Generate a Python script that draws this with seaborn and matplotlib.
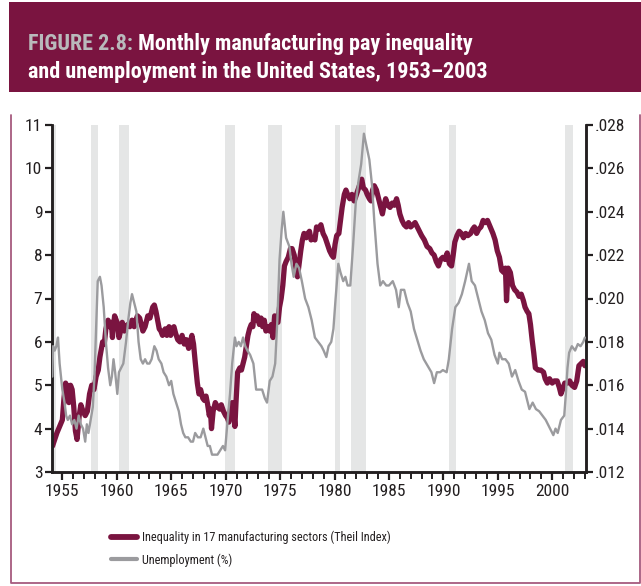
"""Monthly manufacturing pay inequality and unemployment, US 1953-2003."""

import matplotlib

matplotlib.use("Agg")

import matplotlib.pyplot as plt
import pandas as pd
import seaborn as sns
from matplotlib import font_manager
from matplotlib.lines import Line2D
from matplotlib.patches import Rectangle
from matplotlib.ticker import FuncFormatter, MultipleLocator


# unemployment rate (%), left axis
unemp_years = [
    1954.08, 1954.15, 1954.3, 1954.45, 1954.6, 1954.75, 1955.0, 1955.2, 1955.35, 1955.5,
    1955.7, 1955.9, 1956.1, 1956.3, 1956.5, 1956.7, 1956.9, 1957.1, 1957.25, 1957.4,
    1957.6, 1957.8, 1957.95, 1958.1, 1958.25, 1958.45, 1958.6, 1958.8, 1959.0, 1959.2,
    1959.4, 1959.55, 1959.7, 1959.85, 1960.05, 1960.2, 1960.4, 1960.6, 1960.85, 1961.05,
    1961.25, 1961.4, 1961.6, 1961.8, 1962.0, 1962.2, 1962.4, 1962.6, 1962.8, 1963.0,
    1963.2, 1963.45, 1963.65, 1963.85, 1964.1, 1964.3, 1964.55, 1964.8, 1965.0, 1965.2,
    1965.45, 1965.7, 1965.9, 1966.1, 1966.3, 1966.55, 1966.8, 1967.0, 1967.2, 1967.45,
    1967.7, 1967.95, 1968.15, 1968.35, 1968.55, 1968.75, 1969.0, 1969.25, 1969.5, 1969.75,
    1969.95, 1970.15, 1970.4, 1970.6, 1970.85, 1971.0, 1971.2, 1971.4, 1971.6, 1971.8,
    1972.0, 1972.25, 1972.55, 1972.8, 1973.1, 1973.35, 1973.6, 1973.8, 1974.05, 1974.3,
    1974.55, 1974.75, 1974.95, 1975.15, 1975.3, 1975.55, 1975.85, 1976.05, 1976.25, 1976.5,
    1976.75, 1977.0, 1977.3, 1977.6, 1977.9, 1978.2, 1978.5, 1978.8, 1979.0, 1979.25,
    1979.45, 1979.7, 1979.9, 1980.1, 1980.35, 1980.55, 1980.8, 1981.0, 1981.2, 1981.45,
    1981.7, 1981.95, 1982.2, 1982.45, 1982.7, 1982.95, 1983.2, 1983.45, 1983.65, 1983.95,
    1984.2, 1984.45, 1984.75, 1985.0, 1985.35, 1985.65, 1985.9, 1986.1, 1986.4, 1986.7,
    1987.0, 1987.3, 1987.6, 1987.9, 1988.2, 1988.55, 1988.9, 1989.15, 1989.4, 1989.7,
    1989.95, 1990.3, 1990.5, 1990.8, 1991.1, 1991.4, 1991.7, 1992.0, 1992.35, 1992.6,
    1992.9, 1993.2, 1993.5, 1993.8, 1994.1, 1994.4, 1994.7, 1995.0, 1995.15, 1995.4,
    1995.7, 1996.0, 1996.3, 1996.6, 1996.9, 1997.2, 1997.5, 1997.9, 1998.2, 1998.5,
    1998.8, 1999.1, 1999.4, 1999.8, 2000.1, 2000.3, 2000.5, 2000.8, 2001.1, 2001.25,
    2001.4, 2001.55, 2001.8, 2002.1, 2002.35, 2002.6, 2002.85, 2003.0,
]
unemp_values = [
    5.2, 5.9, 5.8, 5.9, 6.1, 5.5, 4.9, 4.6, 4.3, 4.2,
    4.3, 4.1, 4.2, 4.0, 4.3, 4.1, 4.0, 3.7, 4.1, 3.9,
    4.2, 4.5, 5.2, 6.3, 7.4, 7.5, 7.3, 6.8, 6.0, 5.4,
    5.0, 5.2, 5.6, 5.3, 4.8, 5.3, 5.4, 5.5, 6.0, 6.5,
    6.9, 7.1, 6.9, 6.7, 6.0, 5.6, 5.5, 5.6, 5.5, 5.5,
    5.6, 5.9, 5.8, 5.6, 5.5, 5.3, 5.2, 5.0, 5.1, 4.8,
    4.6, 4.4, 4.1, 3.9, 3.8, 3.8, 3.7, 3.7, 3.9, 3.8,
    3.8, 4.0, 3.8, 3.6, 3.6, 3.4, 3.4, 3.4, 3.5, 3.6,
    3.5, 4.1, 4.8, 5.5, 6.1, 5.9, 6.0, 5.9, 6.1, 5.9,
    5.8, 5.7, 5.5, 4.9, 4.9, 4.9, 4.7, 4.6, 5.1, 5.2,
    5.5, 6.5, 7.9, 8.6, 9.0, 8.4, 8.2, 7.8, 7.5, 7.8,
    7.7, 7.4, 7.0, 6.8, 6.5, 6.1, 6.0, 5.9, 5.8, 5.65,
    5.9, 6.0, 6.3, 7.0, 7.8, 7.6, 7.4, 7.5, 7.3, 7.3,
    8.2, 9.2, 9.7, 10.1, 10.8, 10.5, 10.2, 9.6, 8.8, 7.8,
    7.3, 7.4, 7.3, 7.3, 7.4, 7.2, 6.8, 7.2, 7.2, 6.9,
    6.7, 6.3, 6.05, 5.8, 5.6, 5.45, 5.3, 5.05, 5.3, 5.3,
    5.35, 5.3, 5.6, 6.3, 6.8, 6.9, 7.1, 7.4, 7.8, 7.4,
    7.3, 7.0, 6.7, 6.5, 6.2, 6.05, 5.7, 5.5, 5.75, 5.6,
    5.6, 5.5, 5.2, 5.35, 5.1, 4.9, 4.85, 4.45, 4.6, 4.45,
    4.4, 4.3, 4.2, 4.0, 3.85, 4.0, 3.9, 4.2, 4.3, 4.8,
    5.4, 5.75, 5.9, 5.8, 5.95, 5.9, 6.0, 6.1,
]

# Theil index across 17 manufacturing sectors, right axis
theil_years = [
    1954.1, 1954.3, 1954.5, 1954.75, 1955.0, 1955.15, 1955.3, 1955.45, 1955.6, 1955.75,
    1955.9, 1956.05, 1956.2, 1956.35, 1956.55, 1956.7, 1956.9, 1957.1, 1957.3, 1957.5,
    1957.7, 1957.9, 1958.1, 1958.3, 1958.45, 1958.7, 1958.85, 1959.0, 1959.2, 1959.35,
    1959.5, 1959.6, 1959.8, 1959.95, 1960.1, 1960.2, 1960.35, 1960.5, 1960.7, 1960.85,
    1961.0, 1961.2, 1961.4, 1961.6, 1961.75, 1961.9, 1962.1, 1962.25, 1962.4, 1962.6,
    1962.85, 1963.05, 1963.3, 1963.45, 1963.6, 1963.75, 1963.9, 1964.05, 1964.2, 1964.45,
    1964.6, 1964.8, 1964.95, 1965.1, 1965.25, 1965.4, 1965.6, 1965.8, 1966.0, 1966.2,
    1966.4, 1966.6, 1966.75, 1966.9, 1967.05, 1967.2, 1967.4, 1967.55, 1967.7, 1967.9,
    1968.05, 1968.2, 1968.35, 1968.5, 1968.6, 1968.7, 1968.85, 1969.05, 1969.25, 1969.45,
    1969.6, 1969.8, 1970.0, 1970.15, 1970.3, 1970.45, 1970.6, 1970.75, 1970.85, 1970.95,
    1971.1, 1971.3, 1971.45, 1971.6, 1971.75, 1971.9, 1972.05, 1972.2, 1972.35, 1972.5,
    1972.6, 1972.75, 1972.9, 1973.1, 1973.25, 1973.4, 1973.55, 1973.7, 1973.85, 1974.05,
    1974.2, 1974.35, 1974.5, 1974.65, 1974.8, 1974.95, 1975.1, 1975.25, 1975.4, 1975.55,
    1975.75, 1975.95, 1976.1, 1976.3, 1976.45, 1976.6, 1976.75, 1976.9, 1977.05, 1977.2,
    1977.4, 1977.55, 1977.7, 1977.85, 1978.05, 1978.2, 1978.35, 1978.55, 1978.75, 1978.95,
    1979.15, 1979.35, 1979.55, 1979.75, 1979.9, 1980.05, 1980.2, 1980.4, 1980.55, 1980.7,
    1980.9, 1981.05, 1981.2, 1981.4, 1981.6, 1981.8, 1981.95, 1982.15, 1982.35, 1982.5,
    1982.65, 1982.85, 1983.0, 1983.2, 1983.35, 1983.5, 1983.65, 1983.85, 1984.05, 1984.25,
    1984.4, 1984.55, 1984.7, 1984.9, 1985.1, 1985.3, 1985.5, 1985.7, 1985.85, 1986.0,
    1986.2, 1986.4, 1986.6, 1986.8, 1987.0, 1987.2, 1987.4, 1987.6, 1987.8, 1988.0,
    1988.25, 1988.5, 1988.75, 1988.95, 1989.15, 1989.35, 1989.55, 1989.75, 1989.95, 1990.15,
    1990.35, 1990.55, 1990.75, 1990.9, 1991.05, 1991.25, 1991.45, 1991.65, 1991.85, 1992.05,
    1992.25, 1992.5, 1992.7, 1992.85, 1993.05, 1993.25, 1993.45, 1993.65, 1993.85, 1994.05,
    1994.3, 1994.55, 1994.75, 1994.95, 1995.15, 1995.35, 1995.55, 1995.7, 1995.8, 1995.95,
    1996.15, 1996.35, 1996.55, 1996.75, 1996.95, 1997.15, 1997.35, 1997.5, 1997.7, 1997.85,
    1998.0, 1998.15, 1998.3, 1998.45, 1998.7, 1998.95, 1999.2, 1999.35, 1999.55, 1999.75,
    2000.0, 2000.2, 2000.45, 2000.65, 2000.8, 2000.95, 2001.15, 2001.4, 2001.6, 2001.8,
    2002.05, 2002.25, 2002.45, 2002.65, 2002.85, 2003.0,
]
theil_values = [
    .0132, .0135, .0138, .0141, .0144, .0154, .0161, .0159, .0152, .0160,
    .0158, .0150, .0139, .0135, .0146, .0151, .0148, .0146, .0148, .0156,
    .0160, .0158, .0164, .0167, .0173, .0180, .0179, .0186, .0190, .0187,
    .0189, .0182, .0192, .0190, .0188, .0182, .0185, .0189, .0185, .0187,
    .0188, .0187, .0190, .0187, .0190, .0192, .0191, .0188, .0185, .0187,
    .0192, .0191, .0196, .0197, .0194, .0190, .0186, .0185, .0183, .0186,
    .0183, .0187, .0183, .0186, .0187, .0184, .0181, .0180, .0183, .0179,
    .0181, .0177, .0180, .0183, .0179, .0171, .0161, .0156, .0158, .0154,
    .0153, .0155, .0151, .0146, .0149, .0140, .0148, .0152, .0150, .0149,
    .0151, .0148, .0146, .0145, .0143, .0149, .0152, .0147, .0141, .0152,
    .0166, .0168, .0167, .0170, .0173, .0178, .0183, .0186, .0188, .0187,
    .0193, .0190, .0192, .0188, .0191, .0187, .0190, .0185, .0187, .0185,
    .0188, .0182, .0192, .0189, .0189, .0196, .0200, .0206, .0215, .0217,
    .0219, .0223, .0223, .0220, .0214, .0210, .0216, .0222, .0227, .0230,
    .0228, .0230, .0231, .0227, .0228, .0227, .0233, .0232, .0234, .0230,
    .0228, .0225, .0222, .0220, .0219, .0225, .0229, .0230, .0236, .0242,
    .0248, .0250, .0248, .0246, .0248, .0245, .0247, .0250, .0253, .0255,
    .0251, .0250, .0248, .0246, .0245, .0250, .0252, .0250, .0246, .0242,
    .0239, .0243, .0246, .0243, .0242, .0244, .0243, .0246, .0243, .0239,
    .0236, .0234, .0233, .0235, .0233, .0234, .0235, .0233, .0231, .0229,
    .0227, .0224, .0223, .0221, .0220, .0217, .0215, .0218, .0219, .0218,
    .0221, .0216, .0215, .0220, .0226, .0229, .0231, .0230, .0228, .0230,
    .0229, .0230, .0232, .0233, .0230, .0232, .0233, .0236, .0235, .0236,
    .0233, .0230, .0227, .0222, .0219, .0213, .0212, .0214, .0199, .0214,
    .0212, .0206, .0204, .0203, .0201, .0202, .0199, .0196, .0194, .0193,
    .0188, .0181, .0175, .0168, .0167, .0167, .0166, .0163, .0161, .0163,
    .0161, .0162, .0162, .0159, .0156, .0158, .0161, .0161, .0162, .0160,
    .0159, .0162, .0169, .0170, .0171, .0169,
]

# NBER recessions (shaded)
recession_starts = [1953.9, 1957.6, 1960.25, 1969.9, 1973.85, 1980.0, 1981.5, 1990.5, 2001.2]
recession_ends = [1954.4, 1958.3, 1961.1, 1970.9, 1975.2, 1980.5, 1982.9, 1991.2, 2001.9]

year_ticks = [1955, 1960, 1965, 1970, 1975, 1980, 1985, 1990, 1995, 2000]

TITLE_LEAD = "FIGURE 2.8:"
TITLE_REST = " Monthly manufacturing pay inequality"
TITLE_LINE2 = "and unemployment in the United States, 1953\u20132003"
LABEL_THEIL = "Inequality in 17 manufacturing sectors (Theil Index)"
LABEL_UNEMP = "Unemployment (%)"

MAROON = "#7a1440"
GRAY = "#9b9b9e"
SHADE = "#e5e6e6"
INK = "#231f20"


def pick_font() -> list[str]:
    names = {f.name for f in font_manager.fontManager.ttflist}
    for name in ("Liberation Sans Narrow", "Roboto Condensed", "Open Sans Condensed", "Liberation Sans"):
        if name in names:
            return [name, "DejaVu Sans"]
    return ["DejaVu Sans"]


def main() -> None:
    sns.set_theme(style="white")
    family = pick_font()
    plt.rcParams["font.family"] = family
    plt.rcParams["axes.unicode_minus"] = False

    unemp = pd.DataFrame({"year": unemp_years, "value": unemp_values})
    theil = pd.DataFrame({"year": theil_years, "value": theil_values})

    fig = plt.figure(figsize=(6.41, 5.86), dpi=100)
    fig.patch.set_facecolor("white")

    left, right, bottom, top = 52 / 641, 586 / 641, 1 - 472 / 586, 1 - 125 / 586
    ax2 = fig.add_axes([left, bottom, right - left, top - bottom])
    ax = ax2.twinx()
    # left axis carries the unemployment scale, right axis the Theil index
    ax.yaxis.tick_left()
    ax.yaxis.set_label_position("left")
    ax2.yaxis.tick_right()
    ax2.yaxis.set_label_position("right")
    ax2.set_zorder(1)
    ax.set_zorder(2)
    ax.patch.set_visible(False)

    # title band
    fig.add_artist(Rectangle((9 / 641, 1 - 92 / 586), 1 - 9 / 641, 90 / 586,
                             transform=fig.transFigure, color=MAROON, lw=0, zorder=0))
    title_size = 15.9
    t1 = fig.text(28 / 641, 1 - 50 / 586, TITLE_LEAD, color="#b9b9bb", fontsize=title_size,
                  fontweight="bold", ha="left", va="baseline")
    ax.annotate(TITLE_REST, xy=(1, 0), xycoords=t1, color="white", fontsize=title_size,
                fontweight="bold", ha="left", va="bottom", annotation_clip=False)
    fig.text(28 / 641, 1 - 78 / 586, TITLE_LINE2, color="white", fontsize=title_size,
             fontweight="bold", ha="left", va="baseline")

    # frame around the chart panel
    frame_color = "#a65a7e"
    fig.add_artist(Line2D([11 / 641, 11 / 641, 640 / 641, 640 / 641],
                          [1 - 115 / 586, 1 - 583 / 586, 1 - 583 / 586, 1 - 115 / 586],
                          transform=fig.transFigure, color=frame_color, lw=1.3))

    for start, end in zip(recession_starts, recession_ends):
        ax2.axvspan(start, end, color=SHADE, lw=0, zorder=0)

    sns.lineplot(data=theil, x="year", y="value", ax=ax2, color=MAROON, lw=3.8,
                 solid_joinstyle="round", zorder=2)
    sns.lineplot(data=unemp, x="year", y="value", ax=ax, color=GRAY, lw=1.7, zorder=3)

    xmin, xmax = 1954.05, 2003.1
    for a in (ax, ax2):
        a.set_xlim(xmin, xmax)
        a.set_xlabel("")
        a.set_ylabel("")
        a.spines["top"].set_visible(False)
        for side in ("left", "right", "bottom"):
            a.spines[side].set_color(INK)
            a.spines[side].set_linewidth(1.8)

    ax.set_ylim(3, 11)
    ax.yaxis.set_major_locator(MultipleLocator(1))
    ax2.set_ylim(0.012, 0.028)
    ax2.yaxis.set_major_locator(MultipleLocator(0.002))
    ax2.yaxis.set_major_formatter(FuncFormatter(lambda v, _: f"{v:.3f}".lstrip("0")))

    ax2.set_xticks(year_ticks)
    ax2.xaxis.set_minor_locator(MultipleLocator(1))
    ax.tick_params(axis="x", which="both", bottom=False, labelbottom=False)

    tick_kw = dict(direction="out", color=INK, width=1.6, labelcolor=INK, labelsize=12.5)
    ax.tick_params(axis="y", length=5, pad=2, **tick_kw)
    ax2.tick_params(axis="y", length=5, pad=1, **tick_kw)
    ax2.tick_params(axis="x", which="major", length=6, pad=3, bottom=True, **tick_kw)
    ax2.tick_params(axis="x", which="minor", length=5, width=1.4, color=INK, bottom=True,
                    direction="out")

    handles = [
        Line2D([], [], color=MAROON, lw=4.2, solid_capstyle="round"),
        Line2D([], [], color=GRAY, lw=3.0),
    ]
    fig.legend(handles, [LABEL_THEIL, LABEL_UNEMP], loc="center left",
               bbox_to_anchor=(111 / 641, 1 - 548.5 / 586), frameon=False, fontsize=8.8,
               handlelength=2.1, handletextpad=0.45, labelspacing=0.75, borderpad=0,
               borderaxespad=0, labelcolor=INK)

    fig.savefig("out.png", dpi=100, facecolor="white")


if __name__ == "__main__":
    main()
